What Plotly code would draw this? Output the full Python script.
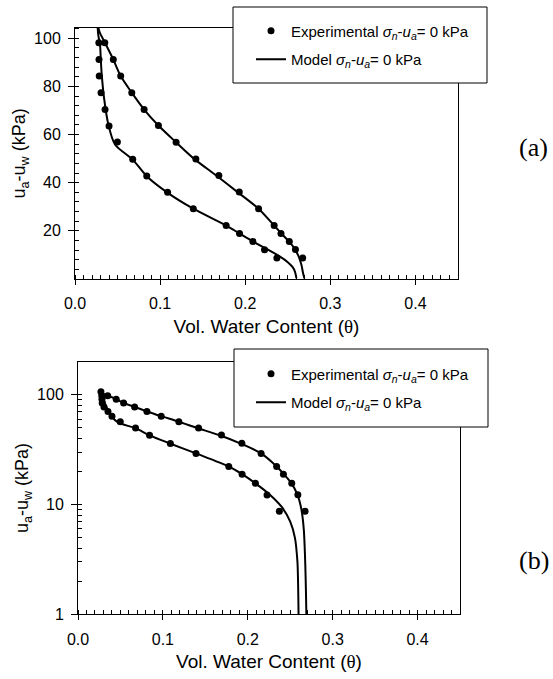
import plotly.graph_objects as go

W, H = 553, 679

# ---------------- data ----------------
# Experimental points: drying branch (upper / right curve)
exp_dry_theta = [0.0270, 0.0350, 0.0450, 0.0537, 0.0667, 0.0812, 0.0980, 0.1188, 0.1420,
                 0.1690, 0.1930, 0.2157, 0.2340, 0.2420, 0.2518, 0.2590, 0.2675]
exp_dry_suction = [106.5, 98.1, 91.2, 84.3, 77.4, 70.4, 63.8, 56.8, 49.9,
                   43.0, 36.1, 29.2, 22.2, 18.9, 15.6, 12.3, 8.7]
# Experimental points: wetting branch (lower / left curve)
exp_wet_theta = [0.0280, 0.0282, 0.0285, 0.0306, 0.0353, 0.0400, 0.0498, 0.0678, 0.0843,
                 0.1088, 0.1390, 0.1776, 0.1933, 0.2090, 0.2227, 0.2372]
exp_wet_suction = [98.1, 91.2, 84.3, 77.4, 70.4, 63.6, 56.9, 49.8, 42.8,
                   36.0, 29.2, 22.2, 18.9, 15.6, 12.2, 8.7]

# Model curves
mod_dry_theta = [0.0262, 0.0290, 0.0353, 0.0450, 0.0537, 0.0667, 0.0812, 0.0980, 0.1188,
                 0.1404, 0.1660, 0.1910, 0.2157, 0.2340, 0.2425, 0.2515, 0.2585, 0.2632,
                 0.2660, 0.2677, 0.2686, 0.2690, 0.2693]
mod_dry_suction = [106.5, 102.5, 98.1, 91.2, 84.3, 77.4, 70.4, 63.8, 56.8,
                   49.8, 43.0, 36.1, 29.2, 22.2, 18.9, 15.6, 12.3, 9.0,
                   5.9, 2.9, 1.5, 1.0, 0.3]
mod_wet_theta = [0.0262, 0.0275, 0.0294, 0.0303, 0.0314, 0.0341, 0.0392, 0.0470, 0.0678,
                 0.0843, 0.1090, 0.1390, 0.1776, 0.1933, 0.2090, 0.2260, 0.2400, 0.2500,
                 0.2555, 0.2585, 0.2595, 0.2598, 0.2600]
mod_wet_suction = [106.5, 101.0, 97.4, 91.2, 85.0, 75.3, 64.2, 55.9, 49.6,
                   42.7, 35.8, 29.2, 22.2, 18.9, 15.6, 12.3, 9.5, 7.0,
                   5.0, 3.0, 1.5, 1.0, 0.3]

x_ticks = [0.0, 0.1, 0.2, 0.3, 0.4]
y_ticks_lin = [20, 40, 60, 80, 100]
y_ticks_log = [1, 10, 100]

exp_name = "Experimental <i>σ</i><sub><i>n</i></sub>-<i>u</i><sub><i>a</i></sub>= 0 kPa"
mod_name = "Model <i>σ</i><sub><i>n</i></sub>-<i>u</i><sub><i>a</i></sub>= 0 kPa"

SANS = "Liberation Sans, Arial, sans-serif"
SERIF = "Liberation Serif, Times New Roman, serif"

fig = go.Figure()

for k, (xa, ya, leg) in enumerate([("x", "y", "legend"), ("x2", "y2", "legend2")]):
    fig.add_trace(go.Scatter(
        x=exp_dry_theta, y=exp_dry_suction, mode="markers", marker=dict(color="black", size=7),
        name=exp_name, xaxis=xa, yaxis=ya, legend=leg, legendgroup=f"e{k}", showlegend=True))
    fig.add_trace(go.Scatter(
        x=exp_wet_theta, y=exp_wet_suction, mode="markers", marker=dict(color="black", size=7),
        name=exp_name, xaxis=xa, yaxis=ya, legend=leg, legendgroup=f"e{k}", showlegend=False))
    fig.add_trace(go.Scatter(
        x=mod_dry_theta, y=mod_dry_suction, mode="lines",
        line=dict(color="black", width=2, shape="spline", smoothing=0.8),
        name=mod_name, xaxis=xa, yaxis=ya, legend=leg, legendgroup=f"m{k}", showlegend=True))
    fig.add_trace(go.Scatter(
        x=mod_wet_theta, y=mod_wet_suction, mode="lines",
        line=dict(color="black", width=2, shape="spline", smoothing=0.8),
        name=mod_name, xaxis=xa, yaxis=ya, legend=leg, legendgroup=f"m{k}", showlegend=False))

xtitle = 'Vol. Water Content (<span style="font-family:Liberation Serif">θ</span>)'
ytitle = "u<sub>a</sub>-u<sub>w</sub> (kPa)"

def xaxis(domain, anchor):
    return dict(
        domain=domain, anchor=anchor, range=[0, 0.45], tickmode="array", tickvals=x_ticks,
        ticktext=[f"{v:.1f}" for v in x_ticks], ticks="outside", ticklen=5, tickwidth=1, tickcolor="black",
        minor=dict(ticks="inside", dtick=0.01, tick0=0, ticklen=4, tickwidth=1, tickcolor="black", showgrid=False),
        showline=True, linecolor="black", linewidth=1, mirror=True, showgrid=False, zeroline=False,
        tickfont=dict(family=SANS, size=16, color="black"), ticklabelstandoff=5,
        title=dict(text=xtitle, font=dict(family=SANS, size=19, color="black"), standoff=8),
        automargin=False,
    )

lay = dict(
    width=W, height=H, margin=dict(l=0, r=0, t=0, b=0),
    paper_bgcolor="white", plot_bgcolor="white",
    xaxis=xaxis([75 / W, 458 / W], "y"),
    xaxis2=xaxis([78 / W, 460 / W], "y2"),
    yaxis=dict(
        domain=[(H - 279) / H, (H - 27.7) / H], anchor="x", range=[0, 104.4], tickmode="array",
        tickvals=y_ticks_lin, ticks="outside", ticklen=6, tickwidth=1, tickcolor="black",
        minor=dict(ticks="inside", dtick=4, tick0=0, ticklen=4, tickwidth=1, tickcolor="black", showgrid=False),
        showline=True, linecolor="black", linewidth=1, mirror=True, showgrid=False, zeroline=False,
        tickfont=dict(family=SANS, size=16, color="black"), ticklabelstandoff=4,
        title=dict(text=ytitle, font=dict(family=SANS, size=18, color="black"), standoff=3),
        automargin=False,
    ),
    yaxis2=dict(
        domain=[(H - 614.3) / H, (H - 361.7) / H], anchor="x2", type="log", range=[0, 2.301],
        tickmode="array", tickvals=y_ticks_log, ticktext=[str(v) for v in y_ticks_log],
        ticks="outside", ticklen=6, tickwidth=1, tickcolor="black",
        minor=dict(ticks="inside", dtick="D1", ticklen=4, tickwidth=1, tickcolor="black", showgrid=False),
        showline=True, linecolor="black", linewidth=1, mirror=True, showgrid=False, zeroline=False,
        tickfont=dict(family=SANS, size=16, color="black"), ticklabelstandoff=4,
        title=dict(text=ytitle, font=dict(family=SANS, size=18, color="black"), standoff=3),
        automargin=False,
    ),
    showlegend=True,
    legend=dict(x=251 / W, xanchor="left", y=(H - 45) / H, yanchor="middle", bgcolor="rgba(0,0,0,0)",
                borderwidth=0, font=dict(family=SANS, size=15, color="black"), traceorder="grouped",
                tracegroupgap=6, itemwidth=30),
    legend2=dict(x=251 / W, xanchor="left", y=(H - 388) / H, yanchor="middle", bgcolor="rgba(0,0,0,0)",
                 borderwidth=0, font=dict(family=SANS, size=15, color="black"), traceorder="grouped",
                 tracegroupgap=6, itemwidth=30),
    shapes=[
        dict(type="rect", xref="paper", yref="paper", x0=233 / W, x1=487 / W, y0=(H - 83) / H, y1=(H - 7) / H,
             line=dict(color="black", width=1), fillcolor="white", layer="above"),
        dict(type="rect", xref="paper", yref="paper", x0=234 / W, x1=488 / W, y0=(H - 427) / H, y1=(H - 349) / H,
             line=dict(color="black", width=1), fillcolor="white", layer="above"),
    ],
    annotations=[
        dict(text="(a)", x=533 / W, y=(H - 147) / H, xref="paper", yref="paper", showarrow=False,
             font=dict(family=SERIF, size=26, color="black"), xanchor="center", yanchor="middle"),
        dict(text="(b)", x=534 / W, y=(H - 560) / H, xref="paper", yref="paper", showarrow=False,
             font=dict(family=SERIF, size=26, color="black"), xanchor="center", yanchor="middle"),
    ],
)
fig.update_layout(**lay)
fig.write_html("out.html")
